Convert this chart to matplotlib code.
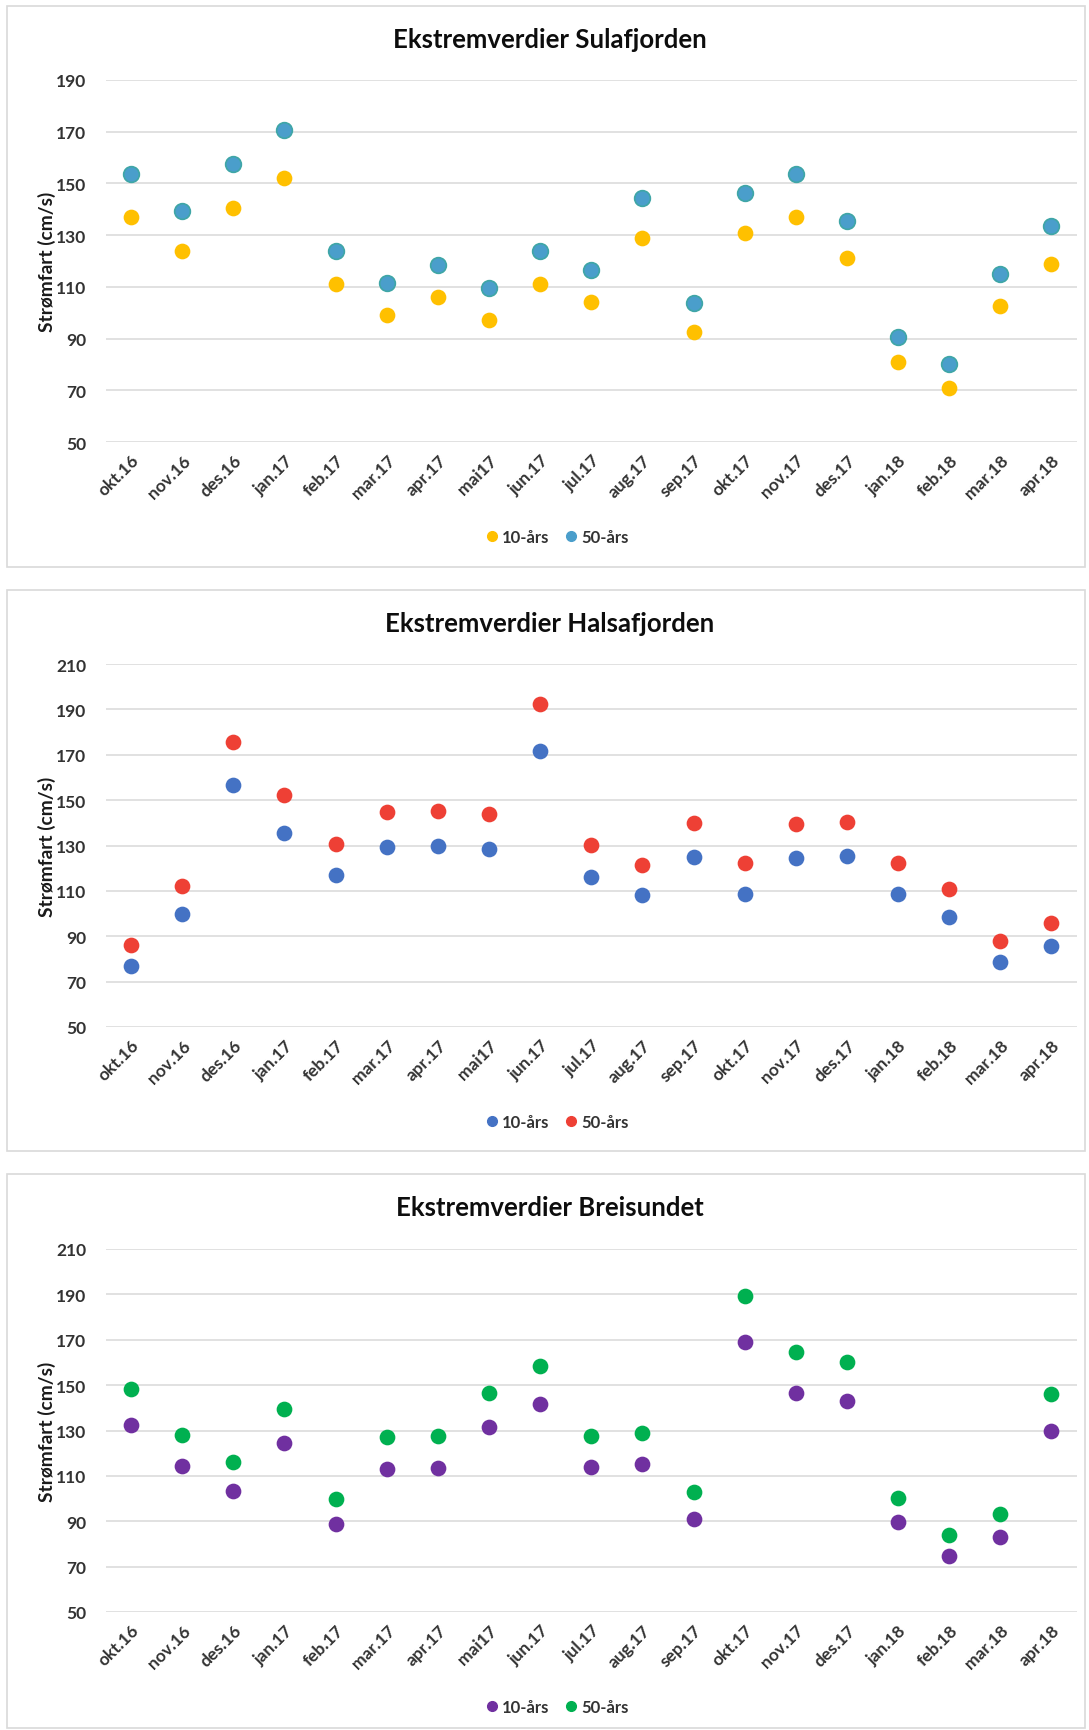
import matplotlib.pyplot as plt
from matplotlib.patches import Rectangle
from matplotlib.lines import Line2D

plt.rcParams['font.family'] = ['Lato', 'DejaVu Sans']

months = ["okt.16", "nov.16", "des.16", "jan.17", "feb.17", "mar.17", "apr.17",
          "mai17", "jun.17", "jul.17", "aug.17", "sep.17", "okt.17", "nov.17",
          "des.17", "jan.18", "feb.18", "mar.18", "apr.18"]

# Sulafjorden
sula_10 = [137, 124, 140.5, 152, 111, 99, 106, 97, 111, 104, 129, 92.7, 130.7,
           137, 121, 81, 71, 102.5, 119]
sula_50 = [153.7, 139.2, 157.5, 170.8, 124, 111.5, 118.3, 109.5, 124, 116.6,
           144.3, 103.8, 146.3, 153.7, 135.4, 90.6, 80, 114.9, 133.7]

# Halsafjorden
hals_10 = [76.7, 99.6, 156.5, 135.6, 117.1, 129.3, 129.7, 128.3, 171.6, 116.1,
           108.3, 124.9, 108.8, 124.4, 125.4, 108.8, 98.6, 78.7, 85.5]
hals_50 = [86, 112.2, 175.5, 152.1, 130.7, 144.8, 145.3, 143.9, 192.5, 130.2,
           121.5, 140, 122.5, 139.5, 140.4, 122.5, 110.8, 87.9, 95.7]

# Breisundet
brei_10 = [132.4, 114.4, 103.2, 124.6, 89, 112.9, 113.4, 131.5, 141.7, 113.9,
           115.4, 91, 169, 146.6, 143.2, 89.5, 74.9, 83.2, 130]
brei_50 = [148.5, 128, 115.9, 139.3, 99.8, 127.1, 127.6, 146.6, 158.3, 127.6,
           129, 102.7, 189.5, 164.6, 160.2, 100.2, 84.1, 93.4, 146.1]

panels = [
    ("Ekstremverdier Sulafjorden", sula_10, sula_50, "#FFC000", "#4A9ECB", "#3FA6A6", (50, 190)),
    ("Ekstremverdier Halsafjorden", hals_10, hals_50, "#4472C4", "#EE4035", None, (50, 210)),
    ("Ekstremverdier Breisundet", brei_10, brei_50, "#7030A0", "#00B050", None, (50, 210)),
]

W, H = 1089, 1731
fig = plt.figure(figsize=(W / 100, H / 100), dpi=100)

# pixel layout (top, bottom of plot area; box top/bottom; title y; legend y)
layout = [
    dict(top=81, bot=443, box=(7, 568), title=40, leg=538),
    dict(top=665, bot=1028, box=(591, 1152), title=624, leg=1123),
    dict(top=1250, bot=1613, box=(1175, 1729), title=1208, leg=1708),
]
x_left, x_right = 105.5, 1077
txt = "#333333"

for (title, v10, v50, c10, c50, e50, ylim), lay in zip(panels, layout):
    b0, b1 = lay["box"]
    fig.patches.append(Rectangle((7 / W, 1 - b1 / H), (1085 - 7) / W, (b1 - b0) / H,
                                 transform=fig.transFigure, fill=False,
                                 edgecolor="#D9D9D9", lw=1.2))
    ax = fig.add_axes([x_left / W, 1 - lay["bot"] / H, (x_right - x_left) / W,
                       (lay["bot"] - lay["top"]) / H])
    x = list(range(len(months)))
    ax.scatter(x, v10, s=128, color=c10, zorder=3, linewidths=0)
    ax.scatter(x, v50, s=128, color=c50, zorder=3,
               edgecolors=e50 if e50 else c50, linewidths=1.2 if e50 else 0)
    ax.set_xlim(-0.5, len(months) - 0.5)
    ax.set_ylim(*ylim)
    ax.set_yticks(range(ylim[0], ylim[1] + 1, 20))
    ax.grid(axis="y", color="#D9D9D9", lw=1.1)
    ax.set_axisbelow(True)
    for sp in ax.spines.values():
        sp.set_visible(False)
    ax.tick_params(length=0, labelsize=12.5, colors=txt, pad=14)
    ax.set_xticks(x)
    ax.set_xticklabels(months, rotation=45, ha="right", va="top",
                       rotation_mode="anchor", fontweight="bold")
    ax.tick_params(axis="x", pad=7)
    for lb in ax.get_yticklabels():
        lb.set_fontweight("bold")
    ax.set_ylabel("Strømfart (cm/s)", fontsize=13.8, fontweight="bold", color="#1A1A1A")
    ax.yaxis.set_label_coords(-0.051, 0.5)
    fig.text(0.505, 1 - lay["title"] / H, title, ha="center", va="center",
             fontsize=18.5, fontweight="bold", color="#0D0D0D")
    handles = [Line2D([], [], ls="", marker="o", ms=7, color=c10),
               Line2D([], [], ls="", marker="o", ms=7, color=c50)]
    leg = fig.legend(handles, ["10-års", "50-års"], loc="center",
                     bbox_to_anchor=(556 / W, 1 - lay["leg"] / H), ncol=2,
                     frameon=False, handletextpad=0.1, columnspacing=0.8,
                     handlelength=1.0, prop=dict(size=12, weight="bold"))
    for t in leg.get_texts():
        t.set_color(txt)

fig.savefig("out.png", dpi=100, facecolor="white")
